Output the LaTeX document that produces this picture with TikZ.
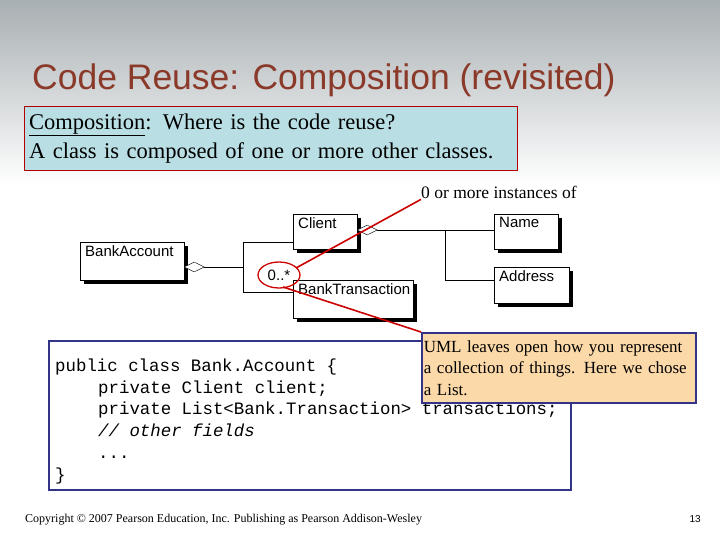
\documentclass[tikz,border=0pt]{standalone}
\usepackage{fontspec}
\setmainfont{Liberation Serif}
\newfontfamily\titlefont{Liberation Sans}
\newfontfamily\codefont{Liberation Mono}
\usetikzlibrary{shapes,arrows,fit,calc,positioning}
\definecolor{titlebrown}{HTML}{8B3A2A}
\definecolor{boxblue}{HTML}{B9DFE4}
\definecolor{notepeach}{HTML}{FCD9A8}
\definecolor{codeframe}{HTML}{333388}
\definecolor{topgray}{HTML}{A8AFB2}
\tikzset{
  aggr/.style={diamond,draw,fill=white,inner sep=0pt,minimum width=20pt,minimum height=10pt,anchor=west},
  pointer/.style={red!80!black,line width=1.6pt},
  codeline/.style={anchor=base west,inner sep=0pt,font=\codefont\fontsize{17.4}{20}\selectfont}
}
\begin{document}
\begin{tikzpicture}[x=1pt,y=-1pt]
\useasboundingbox (0,0) rectangle (720,540);

% Hintergrund
\shade[top color=topgray,bottom color=white] (0,0) rectangle (720,185);

% Cím
\node[anchor=base west,inner sep=0pt,text=titlebrown,font=\titlefont\fontsize{35.5}{35.5}\selectfont] (title) at (32,90) {Code Reuse: Composition (revisited)};

% Definíció doboz
\node[draw=red!70!black,fill=boxblue,anchor=north west,minimum width=493pt,minimum height=64pt,
  inner sep=5pt,align=left,text width=483pt,font=\fontsize{22.5}{29}\selectfont] (defbox) at (24,106)
  {\underline{Composition}: Where is the code reuse?\\A class is composed of one or more other classes.};

\node[anchor=base west,inner sep=0pt,font=\fontsize{17.5}{17.5}\selectfont] (inst) at (421,199) {0 or more instances of};

% Osztályok árnyékkal
\foreach \nn/\xx/\yy/\ww/\hh/\tt in{acc/80/242/104/38/BankAccount,cli/293/214/64/35/Client,trn/293/280/120/38/BankTransaction,nam/494/214/64/35/Name,adr/494/267/75/36/Address}{
\fill[black] (\xx+4,\yy+4) rectangle ++(\ww,\hh);
\draw[fill=white] (\xx,\yy) rectangle ++(\ww,\hh);
\node[anchor=north west,inner sep=0pt,font=\titlefont\fontsize{15}{15}\selectfont] (\nn) at (\xx+5,\yy+3) {\tt};
}
\coordinate (accR) at (184,267);
\coordinate (cliR) at (357,230);
\coordinate (j1) at (243,267);
\coordinate (j2) at (445,230);

% Aggregációk
\node[aggr] (d1) at (accR) {};
\draw (d1.east) -- (j1);
\draw (243,242) -- (293,242) (243,242) -- (243,292) -- (293,292);
\node[aggr] (d2) at (cliR) {};
\draw (d2.east) -- (j2);
\draw (j2) -- (494,230) (j2) -- (445,280) -- (494,280);
\node[inner sep=0pt,font=\titlefont\fontsize{15}{15}\selectfont] (mult) at (279,275) {0..*};
\draw[red!80!black,line width=1.3pt] (mult) ellipse (21pt and 13pt);

% Kód doboz
\node[draw=codeframe,line width=1.8pt,fill=white,anchor=north west,minimum width=522pt,minimum height=149pt] (code) at (48,340) {};
\foreach \ll/\yy/\tt in{0/371/{public class Bank.Account \{},1/393/{    private Client client;},1/414/{    private List<Bank.Transaction> transactions;},1/436/{    \textit{// other fields}},1/458/{    ...},0/480/{\}}}{
\node[codeline] at (55+\ll*43,\yy) {\tt};
}

% Megjegyzés
\node[draw=codeframe,line width=1.5pt,fill=notepeach,anchor=north west,minimum width=274pt,minimum height=70pt,
  inner sep=2pt,text width=270pt,align=left,font=\fontsize{17}{21.5}\selectfont] (note) at (421,332)
  {UML leaves open how you represent\\a collection of things. Here we chose\\a List.};

% Mutatók
\draw[pointer] (296,268) -- (inst.south west);
\draw[pointer] (283,287) -- (note.north west);

% Lábléc
\node[anchor=base west,inner sep=0pt,font=\fontsize{12}{12}\selectfont] (copy) at (25,522) {Copyright \textcopyright{} 2007 Pearson Education, Inc. Publishing as Pearson Addison-Wesley};
\node[anchor=base east,inner sep=0pt,font=\titlefont\fontsize{10}{10}\selectfont] (page) at (701,522) {13};
\end{tikzpicture}
\end{document}
